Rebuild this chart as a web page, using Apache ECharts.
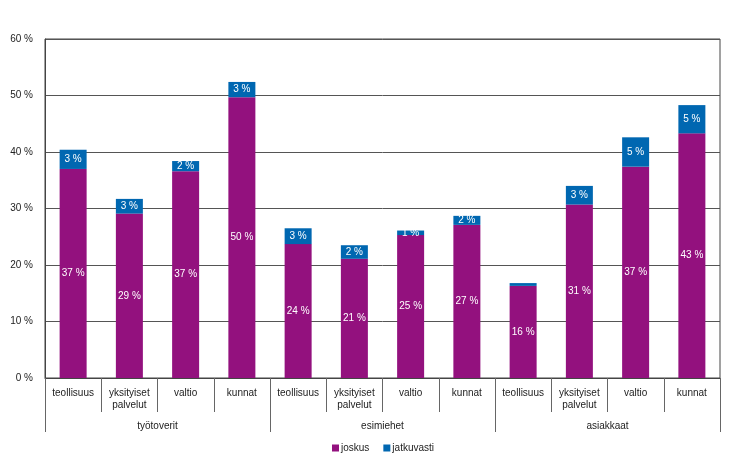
<!DOCTYPE html>
<html>
<head>
<meta charset="utf-8">
<script src="https://cdn.jsdelivr.net/npm/echarts@6/dist/echarts.min.js"></script>
<style>html,body{margin:0;padding:0;background:#fff;}#c{width:742px;height:464px;}</style>
</head>
<body>
<div id="c"></div>
<script>
const categories = ['teollisuus','yksityiset\npalvelut','valtio','kunnat','teollisuus','yksityiset\npalvelut','valtio','kunnat','teollisuus','yksityiset\npalvelut','valtio','kunnat'];
const groups = ['työtoverit','esimiehet','asiakkaat'];
const joskus = [37.0, 29.1, 36.6, 49.7, 23.7, 21.1, 25.3, 27.1, 16.3, 30.7, 37.4, 43.3];
const jatkuvasti = [3.4, 2.6, 1.8, 2.7, 2.8, 2.4, 0.8, 1.6, 0.5, 3.3, 5.2, 5.0];
const yTicks = [0, 10, 20, 30, 40, 50, 60];

const font = 'Liberation Sans, Arial, sans-serif';
const chart = echarts.init(document.getElementById('c'), null, {renderer: 'canvas'});
const lbl = {
  show: true, position: 'inside', color: '#fff', fontSize: 10, fontFamily: font,
  formatter: p => p.value < 0.7 ? '' : Math.round(p.value) + ' %'
};
chart.setOption({
  animation: false,
  textStyle: {fontFamily: font},
  grid: {left: 45, right: 22, top: 39, bottom: 86, show: true, borderColor: '#444', borderWidth: 1, backgroundColor: 'transparent'},
  legend: {
    bottom: 6, left: 327, itemWidth: 7, itemHeight: 7, itemGap: 14, icon: 'rect',
    textStyle: {fontSize: 10, color: '#222', fontFamily: font, padding: [0,0,0,-3]},
    data: ['joskus', 'jatkuvasti']
  },
  xAxis: [{
    type: 'category', data: categories, position: 'bottom',
    axisLine: {show: true, lineStyle: {color: '#444'}},
    axisTick: {show: true, length: 34, interval: 0, lineStyle: {color: '#666'}},
    axisLabel: {interval: 0, color: '#222', fontSize: 10, fontFamily: font, margin: 9, lineHeight: 12}
  }, {
    type: 'category', data: groups, position: 'bottom', offset: 34,
    axisLine: {show: false},
    axisTick: {show: true, length: 20, interval: 0, lineStyle: {color: '#666'}},
    axisLabel: {interval: 0, color: '#222', fontSize: 10, fontFamily: font, margin: 9}
  }],
  yAxis: {
    type: 'value', min: yTicks[0], max: yTicks[yTicks.length-1], interval: 10,
    axisLine: {show: true, lineStyle: {color: '#444'}},
    axisTick: {show: false},
    axisLabel: {formatter: '{value} %', color: '#222', fontSize: 10, fontFamily: font, margin: 12},
    splitLine: {show: true, lineStyle: {color: '#555', width: 1}}
  },
  series: [{
    name: 'joskus', type: 'bar', stack: 's', data: joskus, barWidth: 27, xAxisIndex: 0,
    itemStyle: {color: '#93117E'}, label: lbl
  }, {
    name: 'jatkuvasti', type: 'bar', stack: 's', data: jatkuvasti, barWidth: 27, xAxisIndex: 0,
    itemStyle: {color: '#0067B1'}, label: lbl
  }]
});
</script>
</body>
</html>
